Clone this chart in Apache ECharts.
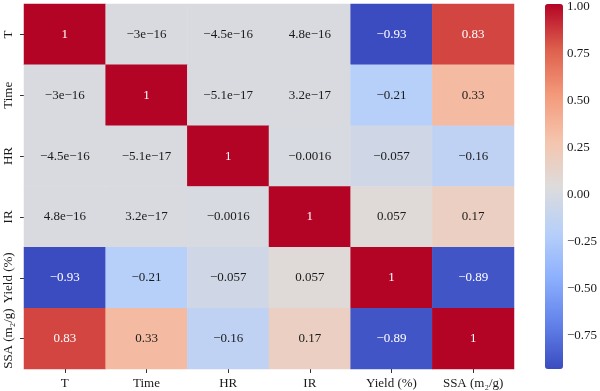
<!DOCTYPE html>
<html><head><meta charset="utf-8">
<script src="https://cdn.jsdelivr.net/npm/echarts@6/dist/echarts.min.js"></script>
<style>html,body{margin:0;padding:0;background:#fff}#c{width:600px;height:391px}</style>
</head><body><div id="c"></div>
<script>
const variables = ['T', 'Time', 'HR', 'IR', 'Yield (%)', 'SSA (m₂/g)'];
const rowT     = [1, -3e-16, -4.5e-16, 4.8e-16, -0.93, 0.83];
const rowTime  = [-3e-16, 1, -5.1e-17, 3.2e-17, -0.21, 0.33];
const rowHR    = [-4.5e-16, -5.1e-17, 1, -0.0016, -0.057, -0.16];
const rowIR    = [4.8e-16, 3.2e-17, -0.0016, 1, 0.057, 0.17];
const rowYield = [-0.93, -0.21, -0.057, 0.057, 1, -0.89];
const rowSSA   = [0.83, 0.33, -0.16, 0.17, -0.89, 1];
const colorbarTicks = [-0.75, -0.5, -0.25, 0, 0.25, 0.5, 0.75, 1];
const vmin = -0.93, vmax = 1;

const rows = [rowT, rowTime, rowHR, rowIR, rowYield, rowSSA];
const coolwarm = ['#3b4cc0','#6282ea','#8db0fe','#b8d0f9','#dddcdc','#f5c4ad','#f49a7b','#de604d','#b40426'];
const FONT = '"Liberation Serif", "DejaVu Serif", serif';
const TXT = '#1a1a1a';

function fmt(v) {
  let s = v.toPrecision(2);
  if (s.indexOf('e') >= 0) {
    let [m, e] = s.split('e');
    if (m.indexOf('.') >= 0) m = m.replace(/0+$/, '').replace(/\.$/, '');
    e = e.replace('+', '');
    s = m + 'e' + e;
  } else if (s.indexOf('.') >= 0) {
    s = s.replace(/0+$/, '').replace(/\.$/, '');
  }
  return s.replace(/-/g, '\u2212');
}

const data = [];
rows.forEach((r, yi) => r.forEach((v, xi) => {
  data.push({
    value: [xi, yi, v],
    label: { color: Math.abs(v) > 0.6 ? '#ffffff' : TXT }
  });
}));

const chart = echarts.init(document.getElementById('c'), null, {renderer: 'canvas'});
chart.setOption({
  animation: false,
  backgroundColor: '#fff',
  textStyle: { fontFamily: FONT },
  grid: [
    { left: 24, top: 4, width: 490, height: 365 },
    { left: 545, top: 4, width: 18, height: 365 }
  ],
  xAxis: [
    { type: 'category', data: variables, gridIndex: 0, position: 'bottom',
      axisLine: { show: false },
      axisTick: { show: true, alignWithLabel: true, interval: 0, length: 4, lineStyle: { color: '#333' } },
      axisLabel: { fontFamily: FONT, fontSize: 13, color: TXT, margin: 8, interval: 0 },
      splitLine: { show: false } },
    { type: 'value', gridIndex: 1, show: false }
  ],
  yAxis: [
    { type: 'category', data: variables, gridIndex: 0, inverse: true,
      axisLine: { show: false },
      axisTick: { show: true, alignWithLabel: true, interval: 0, length: 4, lineStyle: { color: '#333' } },
      axisLabel: { fontFamily: FONT, fontSize: 13, color: TXT, rotate: 90, margin: 9, interval: 0, align: 'center', verticalAlign: 'bottom' },
      splitLine: { show: false } },
    { type: 'value', gridIndex: 1, position: 'right', min: vmin, max: vmax,
      axisLine: { show: false },
      splitLine: { show: false },
      axisTick: { show: true, length: 4, lineStyle: { color: '#333' }, customValues: colorbarTicks },
      axisLabel: { fontFamily: FONT, fontSize: 13, color: TXT, margin: 7, customValues: colorbarTicks,
        formatter: v => v.toFixed(2).replace('-', '\u2212') } }
  ],
  visualMap: {
    type: 'continuous', min: vmin, max: vmax, seriesIndex: 0,
    calculable: false, orient: 'vertical', left: 545, top: 4, padding: 0,
    itemWidth: 18, itemHeight: 365, text: null, showLabel: false, hoverLink: false,
    inRange: { color: coolwarm }
  },
  series: [{
    type: 'heatmap', xAxisIndex: 0, yAxisIndex: 0, data: data,
    label: { show: true, fontFamily: FONT, fontSize: 13, formatter: p => fmt(p.value[2]) },
    itemStyle: { borderWidth: 0 },
    emphasis: { disabled: true }
  }]
});
</script></body></html>
